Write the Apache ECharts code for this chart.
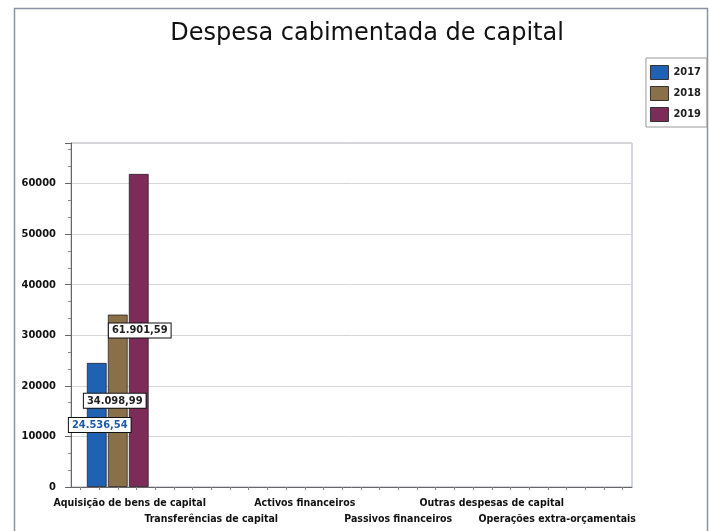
<!DOCTYPE html>
<html>
<head>
<meta charset="utf-8">
<script src="https://cdn.jsdelivr.net/npm/echarts@6/dist/echarts.min.js"></script>
<style>html,body{margin:0;padding:0;background:#fff}#c{width:710px;height:531px}</style>
</head>
<body>
<div id="c"></div>
<script>
const title = 'Despesa cabimentada de capital';
const categories = ['Aquisição de bens de capital', 'Transferências de capital', 'Activos financeiros', 'Passivos financeiros', 'Outras despesas de capital', 'Operações extra-orçamentais'];
const years = ['2017', '2018', '2019'];
const values2017 = [24536.54, 0, 0, 0, 0, 0];
const values2018 = [34098.99, 0, 0, 0, 0, 0];
const values2019 = [61901.59, 0, 0, 0, 0, 0];

const colors = ['#1f62b4', '#8a7048', '#7d2c5a'];
const labelColors = ['#1f5aa8', '#222', '#222'];
const seriesValues = [values2017, values2018, values2019];

function fmtPT(v) {
  const parts = v.toFixed(2).split('.');
  const int = parts[0].replace(/\B(?=(\d{3})+(?!\d))/g, '.');
  return int + ',' + parts[1];
}

const chart = echarts.init(document.getElementById('c'));
const FONT = 'DejaVu Sans Condensed';
const minorTickVals = [];
for (let i = 0; i < categories.length * 5; i++) minorTickVals.push((i + 0.5) / 5);
const last = categories.length - 1;

chart.setOption({
  animation: false,
  backgroundColor: '#fff',
  title: {
    text: title, left: 362, top: 17, textAlign: 'center',
    textStyle: { fontFamily: 'DejaVu Sans', fontWeight: 'normal', fontSize: 24, color: '#111' }
  },
  legend: {
    orient: 'vertical', right: 3, top: 58,
    data: years, icon: 'rect',
    itemWidth: 18, itemHeight: 14, itemGap: 6,
    padding: [7, 6, 5, 4],
    borderColor: '#999', borderWidth: 1,
    itemStyle: { borderColor: '#333', borderWidth: 1 },
    textStyle: { fontFamily: FONT, fontWeight: 'bold', fontSize: 11, color: '#222' }
  },
  graphic: [{
    type: 'rect', shape: { x: 14.5, y: 8.5, width: 693, height: 540 },
    style: { fill: 'none', stroke: '#8a93a3', lineWidth: 1.5 }, silent: true, z: -1
  }],
  grid: { left: 71, right: 78, top: 143, bottom: 44, show: true, borderColor: '#aab0b8', borderWidth: 1 },
  xAxis: [{
    type: 'category', data: categories,
    axisLine: { lineStyle: { color: '#666' } },
    axisTick: { alignWithLabel: true, length: 6, lineStyle: { color: '#666' } },
    axisLabel: {
      interval: 0, fontFamily: FONT, fontWeight: 'bold', fontSize: 10.5, color: '#111', margin: 8, lineHeight: 16,
      formatter: (v, i) => {
        const s = i === 0 ? '{f|' + v + '}' : i === last ? '{l|' + v + '}' : v;
        return i % 2 === 1 ? '\n' + s : s;
      },
      rich: {
        f: { fontFamily: FONT, fontWeight: 'bold', fontSize: 10.5, color: '#111', padding: [0, 0, 0, 24] },
        l: { fontFamily: FONT, fontWeight: 'bold', fontSize: 10.5, color: '#111', padding: [0, 56, 0, 0] }
      }
    }
  }, {
    type: 'value', min: 0, max: categories.length, position: 'bottom',
    axisLine: { show: false }, splitLine: { show: false },
    axisLabel: { show: false },
    axisTick: { show: true, length: 3, customValues: minorTickVals, lineStyle: { color: '#888' } }
  }],
  yAxis: {
    type: 'value', min: 0, max: 68000, interval: 10000,
    axisLine: { show: true, lineStyle: { color: '#666' } },
    axisTick: { show: true, length: 6, lineStyle: { color: '#666' } },
    minorTick: { show: true, splitNumber: 3, length: 3, lineStyle: { color: '#888' } },
    splitLine: { lineStyle: { color: '#d6d6d6' } },
    axisLabel: {
      showMaxLabel: false, margin: 15, fontFamily: FONT, fontWeight: 'bold', fontSize: 11, color: '#111',
      formatter: v => (v % 10000 === 0 ? String(v) : '')
    }
  },
  series: years.map((y, k) => ({
    name: y, type: 'bar', xAxisIndex: 0,
    data: seriesValues[k].map(v => (v === 0 ? null : v)),
    barWidth: 20, barGap: '5%',
    itemStyle: { color: colors[k], borderColor: 'rgba(30,20,30,0.7)', borderWidth: 1 },
    label: {
      show: true, position: 'inside', offset: [[3, 0], [-3, 0], [1, 0]][k],
      formatter: p => fmtPT(p.value),
      fontFamily: FONT, fontWeight: 'bold', fontSize: 11, color: labelColors[k],
      backgroundColor: '#fff', borderColor: '#111', borderWidth: 1, padding: [2, 3, 1, 3]
    }
  }))
});
</script>
</body>
</html>
